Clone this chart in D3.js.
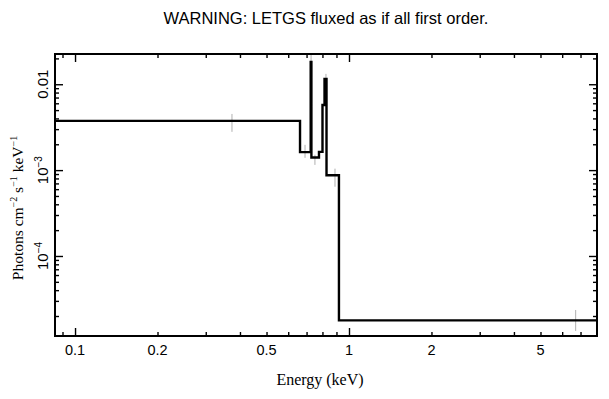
<!DOCTYPE html>
<html>
<head>
<meta charset="utf-8">
<script src="https://cdn.jsdelivr.net/npm/d3@7"></script>
<style>
  body { margin: 0; background: #fff; }
  svg { display: block; }
</style>
</head>
<body>
<div id="chart"></div>
<script>
// step spectrum: bin edges (keV) and flux per bin
var binEdges = [0.0845, 0.6626, 0.7247, 0.7291, 0.777, 0.8003, 0.8141, 0.8278, 0.919, 8.1];
var binFlux = [3.74e-3, 1.62e-3, 1.815e-2, 1.40e-3, 1.63e-3, 5.74e-3, 1.152e-2, 8.7e-4, 1.78e-5];

// grey error bars
var errEnergy = [0.374, 0.691, 0.727, 0.751, 0.824, 0.889, 6.72];
var errLow = [2.79e-3, 1.39e-3, 1.77e-2, 1.15e-3, 9.06e-3, 6.4e-4, 1.34e-5];
var errHigh = [4.51e-3, 1.97e-3, 2.19e-2, 1.51e-3, 1.32e-2, 1.04e-3, 2.35e-5];

var xDomain = [0.0845, 8.04];
var yDomain = [1.17e-5, 0.0225];
var xTickVals = [0.1, 0.2, 0.5, 1, 2, 5];
var yTickVals = [1e-2, 1e-3, 1e-4];

var width = 609, height = 399;
var margin = { left: 55, right: 12, top: 54, bottom: 63 };
var plotW = width - margin.left - margin.right;
var plotH = height - margin.top - margin.bottom;

var svg = d3.select("#chart").append("svg")
    .attr("width", width)
    .attr("height", height);

var x = d3.scaleLog().domain(xDomain).range([0, plotW]);
var y = d3.scaleLog().domain(yDomain).range([plotH, 0]);

var g = svg.append("g")
    .attr("transform", "translate(" + margin.left + "," + margin.top + ")");

g.append("clipPath").attr("id", "clip")
  .append("rect").attr("width", plotW).attr("height", plotH);

// minor tick positions
var xMinor = [];
[0.01, 0.1, 1].forEach(function (d) {
    for (var k = 2; k <= 9; k++) {
        var v = d * k;
        if (v > xDomain[0] && v < xDomain[1]) xMinor.push(v);
    }
});
var yMinor = [];
[1e-5, 1e-4, 1e-3, 1e-2].forEach(function (d) {
    for (var k = 2; k <= 9; k++) {
        var v = d * k;
        if (v > yDomain[0] && v < yDomain[1]) yMinor.push(v);
    }
});
var xMajor = [0.1, 1];

function tickAxis(gen, vals, size, pos) {
    var a = g.append("g").attr("transform", pos)
        .call(gen.tickValues(vals).tickSize(size).tickFormat(""));
    a.select(".domain").remove();
    a.selectAll("line").attr("stroke", "#000").attr("stroke-width", 1.4);
}

tickAxis(d3.axisBottom(x), xMajor, -8, "translate(0," + plotH + ")");
tickAxis(d3.axisBottom(x), xMinor, -4, "translate(0," + plotH + ")");
tickAxis(d3.axisTop(x), xMajor, -8, "translate(0,0)");
tickAxis(d3.axisTop(x), xMinor, -4, "translate(0,0)");
tickAxis(d3.axisLeft(y), yTickVals, -8, "translate(0,0)");
tickAxis(d3.axisLeft(y), yMinor, -4, "translate(0,0)");
tickAxis(d3.axisRight(y), yTickVals, -8, "translate(" + plotW + ",0)");
tickAxis(d3.axisRight(y), yMinor, -4, "translate(" + plotW + ",0)");

// x tick labels
g.selectAll(".xlab").data(xTickVals).enter().append("text")
    .attr("class", "xlab")
    .attr("x", function (d) { return x(d); })
    .attr("y", plotH + 19)
    .attr("text-anchor", "middle")
    .attr("font-family", "Liberation Sans, Arial, sans-serif")
    .attr("font-size", 14.5)
    .text(function (d) { return d; });

// y tick labels (rotated)
var yl = g.selectAll(".ylab").data(yTickVals).enter().append("text")
    .attr("class", "ylab")
    .attr("transform", function (d) { return "translate(-7," + y(d) + ") rotate(-90)"; })
    .attr("text-anchor", "middle")
    .attr("font-family", "Liberation Sans, Arial, sans-serif")
    .attr("font-size", 15);
yl.each(function (d) {
    var t = d3.select(this);
    if (d === 1e-2) {
        t.text("0.01");
    } else {
        t.append("tspan").text("10");
        t.append("tspan").attr("dy", -6).attr("font-size", 10)
            .text("\u2212" + Math.round(-Math.log10(d)));
    }
});

// error bars
g.append("g").attr("clip-path", "url(#clip)")
  .selectAll("line").data(errEnergy).enter().append("line")
    .attr("x1", function (d) { return x(d); })
    .attr("x2", function (d) { return x(d); })
    .attr("y1", function (d, i) { return y(errLow[i]); })
    .attr("y2", function (d, i) { return y(errHigh[i]); })
    .attr("stroke", "#b0b0b0")
    .attr("stroke-width", 1);

// step line
var pts = binFlux.map(function (v, i) { return [binEdges[i], v]; });
pts.push([binEdges[binEdges.length - 1], binFlux[binFlux.length - 1]]);

var line = d3.line()
    .x(function (d) { return x(d[0]); })
    .y(function (d) { return y(d[1]); })
    .curve(d3.curveStepAfter);

g.append("path")
    .datum(pts)
    .attr("clip-path", "url(#clip)")
    .attr("fill", "none")
    .attr("stroke", "#000")
    .attr("stroke-width", 2.4)
    .attr("d", line);

// frame
g.append("rect")
    .attr("width", plotW)
    .attr("height", plotH)
    .attr("fill", "none")
    .attr("stroke", "#000")
    .attr("stroke-width", 2);

// titles
svg.append("text")
    .attr("x", margin.left + plotW / 2)
    .attr("y", 24)
    .attr("text-anchor", "middle")
    .attr("font-family", "Liberation Sans, Arial, sans-serif")
    .attr("font-size", 16.5)
    .text("WARNING: LETGS fluxed as if all first order.");

svg.append("text")
    .attr("x", 320)
    .attr("y", 385)
    .attr("text-anchor", "middle")
    .attr("font-family", "Liberation Serif, Times New Roman, serif")
    .attr("font-size", 16)
    .text("Energy (keV)");

var ytitle = svg.append("text")
    .attr("transform", "translate(23,208) rotate(-90)")
    .attr("text-anchor", "middle")
    .attr("font-family", "Liberation Serif, Times New Roman, serif")
    .attr("font-size", 15.5);
ytitle.append("tspan").text("Photons cm");
ytitle.append("tspan").attr("dy", -6).attr("font-size", 10).text("\u22122");
ytitle.append("tspan").attr("dy", 6).text(" s");
ytitle.append("tspan").attr("dy", -6).attr("font-size", 10).text("\u22121");
ytitle.append("tspan").attr("dy", 6).text(" keV");
ytitle.append("tspan").attr("dy", -6).attr("font-size", 10).text("\u22121");
</script>
</body>
</html>
